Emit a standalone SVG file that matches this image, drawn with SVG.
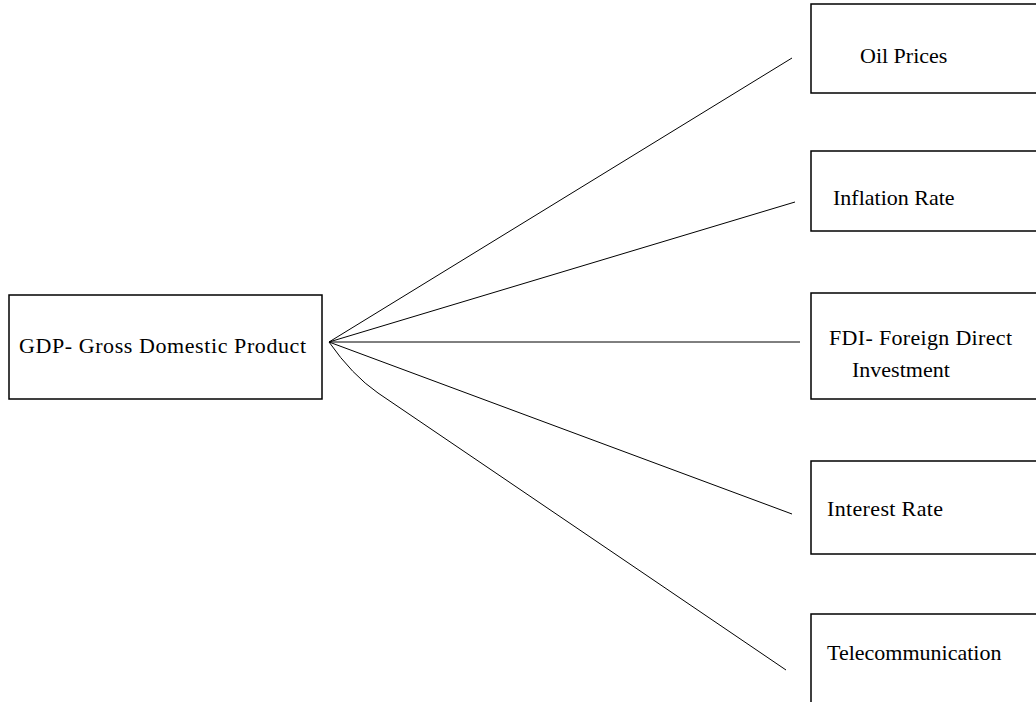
<svg xmlns="http://www.w3.org/2000/svg" width="1036" height="702" viewBox="0 0 1036 702">
<style>
.box{fill:#fff;stroke:#000;stroke-width:1.5}
.lbl{font-family:"Liberation Serif","Times New Roman",serif;font-size:22px;fill:#000}
.con{fill:none;stroke:#000;stroke-width:1}
</style>
<rect width="1036" height="702" fill="#fff"/>
<g id="connectors">
<line class="con" x1="329" y1="342" x2="792" y2="58"/>
<line class="con" x1="329" y1="342" x2="795" y2="202"/>
<line class="con" x1="329" y1="342" x2="800" y2="342" stroke-width="1.5"/>
<line class="con" x1="329" y1="342" x2="792" y2="514"/>
<path class="con" d="M329,342 Q352,375 378,393 L786,670"/>
</g>
<g id="gdp">
<rect class="box" x="9" y="295" width="313" height="104"/>
<text class="lbl" x="19" y="353" textLength="287" lengthAdjust="spacing">GDP- Gross Domestic Product</text>
</g>
<g id="oil">
<rect class="box" x="811" y="4" width="240" height="89"/>
<text class="lbl" x="860" y="63">Oil Prices</text>
</g>
<g id="inflation">
<rect class="box" x="811" y="151" width="240" height="80"/>
<text class="lbl" x="833" y="205">Inflation Rate</text>
</g>
<g id="fdi">
<rect class="box" x="811" y="293" width="240" height="106"/>
<text class="lbl" x="829" y="345" textLength="183" lengthAdjust="spacing">FDI- Foreign Direct</text>
<text class="lbl" x="852" y="377">Investment</text>
</g>
<g id="interest">
<rect class="box" x="811" y="461" width="240" height="93"/>
<text class="lbl" x="827" y="516" textLength="116" lengthAdjust="spacing">Interest Rate</text>
</g>
<g id="telecom">
<rect class="box" x="811" y="614" width="240" height="100"/>
<text class="lbl" x="827" y="660">Telecommunication</text>
</g>
</svg>
